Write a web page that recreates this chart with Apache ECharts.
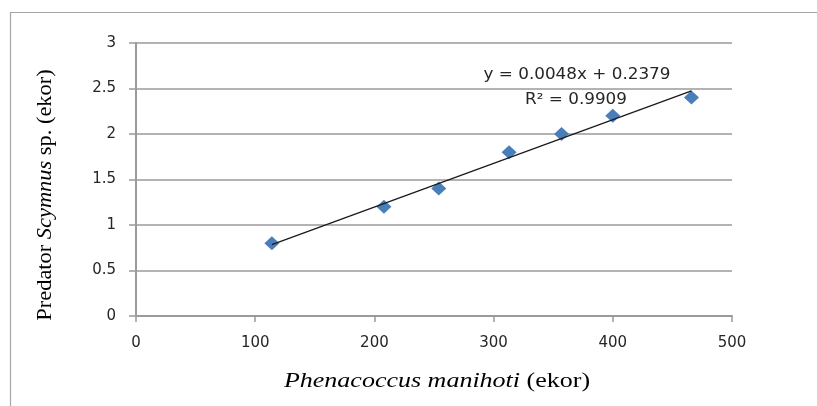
<!DOCTYPE html>
<html>
<head>
<meta charset="utf-8">
<script src="https://cdn.jsdelivr.net/npm/echarts@6/dist/echarts.min.js"></script>
<style>
  html, body { margin: 0; padding: 0; background: #fff; }
  #chart { width: 817px; height: 406px; }
</style>
</head>
<body>
<div id="chart"></div>
<script>
// values
var preyCount = [114, 208, 254, 313, 357, 400, 466];
var predatorCount = [0.8, 1.2, 1.4, 1.8, 2.0, 2.2, 2.4];
var trendSlope = 0.0048;
var trendIntercept = 0.2379;
var trendR2 = 0.9909;
var xTicks = [0, 100, 200, 300, 400, 500];
var yTicks = [0, 0.5, 1, 1.5, 2, 2.5, 3];

var points = preyCount.map(function (x, i) { return [x, predatorCount[i]]; });
var xLo = Math.min.apply(null, preyCount), xHi = Math.max.apply(null, preyCount);
var trendLine = [xLo, xHi].map(function (x) { return [x, trendSlope * x + trendIntercept]; });

var chart = echarts.init(document.getElementById('chart'));
var tickFont = { fontFamily: 'DejaVu Sans', fontSize: 15, color: '#262626' };
var gridGray = '#9a9a9a';

chart.setOption({
  animation: false,
  grid: { left: 136, right: 85, top: 43, bottom: 90 },
  xAxis: {
    type: 'value', min: xTicks[0], max: xTicks[xTicks.length - 1], interval: 100,
    axisLine: { lineStyle: { color: gridGray, width: 2 } },
    axisTick: { show: true, length: 6, lineStyle: { color: gridGray, width: 1.5 } },
    axisLabel: Object.assign({ margin: 20 }, tickFont),
    splitLine: { show: false }
  },
  yAxis: {
    type: 'value', min: yTicks[0], max: yTicks[yTicks.length - 1], interval: 0.5,
    axisLine: { show: true, lineStyle: { color: gridGray, width: 2 } },
    axisTick: { show: true, length: 7, lineStyle: { color: gridGray, width: 1.5 } },
    axisLabel: Object.assign({ margin: 20 }, tickFont),
    splitLine: { show: true, lineStyle: { color: gridGray, width: 1.6 } }
  },
  graphic: [
    { type: 'polyline', shape: { points: [[10.5, 420], [10.5, 12.5], [830, 12.5]] },
      style: { stroke: '#a6a6a6', lineWidth: 1.2, fill: null } },
    { type: 'text', x: 46, y: 195, rotation: Math.PI / 2, scaleX: 1.12,
      style: { text: 'Predator {i|Scymnus} sp. (ekor)', fontFamily: 'Liberation Serif', fontSize: 20,
        fill: '#000', align: 'center', verticalAlign: 'middle',
        rich: { i: { fontStyle: 'italic', fontFamily: 'Liberation Serif', fontSize: 20 } } } },
    { type: 'text', x: 437, y: 382, scaleX: 1.3,
      style: { text: '{i|Phenacoccus manihoti} (ekor)', fontFamily: 'Liberation Serif', fontSize: 20,
        fill: '#000', align: 'center', verticalAlign: 'middle',
        rich: { i: { fontStyle: 'italic', fontFamily: 'Liberation Serif', fontSize: 20 } } } },
    { type: 'text', x: 577, y: 75, scaleX: 1.12,
      style: { text: 'y = ' + trendSlope + 'x + ' + trendIntercept, fontFamily: 'DejaVu Sans', fontSize: 15,
        fill: '#262626', align: 'center', verticalAlign: 'middle' } },
    { type: 'text', x: 576, y: 100, scaleX: 1.12,
      style: { text: 'R\u00b2 = ' + trendR2, fontFamily: 'DejaVu Sans', fontSize: 15,
        fill: '#262626', align: 'center', verticalAlign: 'middle' } }
  ],
  series: [
    {
      type: 'line', data: trendLine, symbol: 'none', silent: true,
      lineStyle: { color: '#1a1a1a', width: 1.3 }, z: 3
    },
    {
      type: 'scatter', data: points, symbol: 'diamond', symbolSize: [15, 14],
      itemStyle: { color: '#4a7ebb', opacity: 1 }, z: 2
    }
  ]
});
</script>
</body>
</html>
